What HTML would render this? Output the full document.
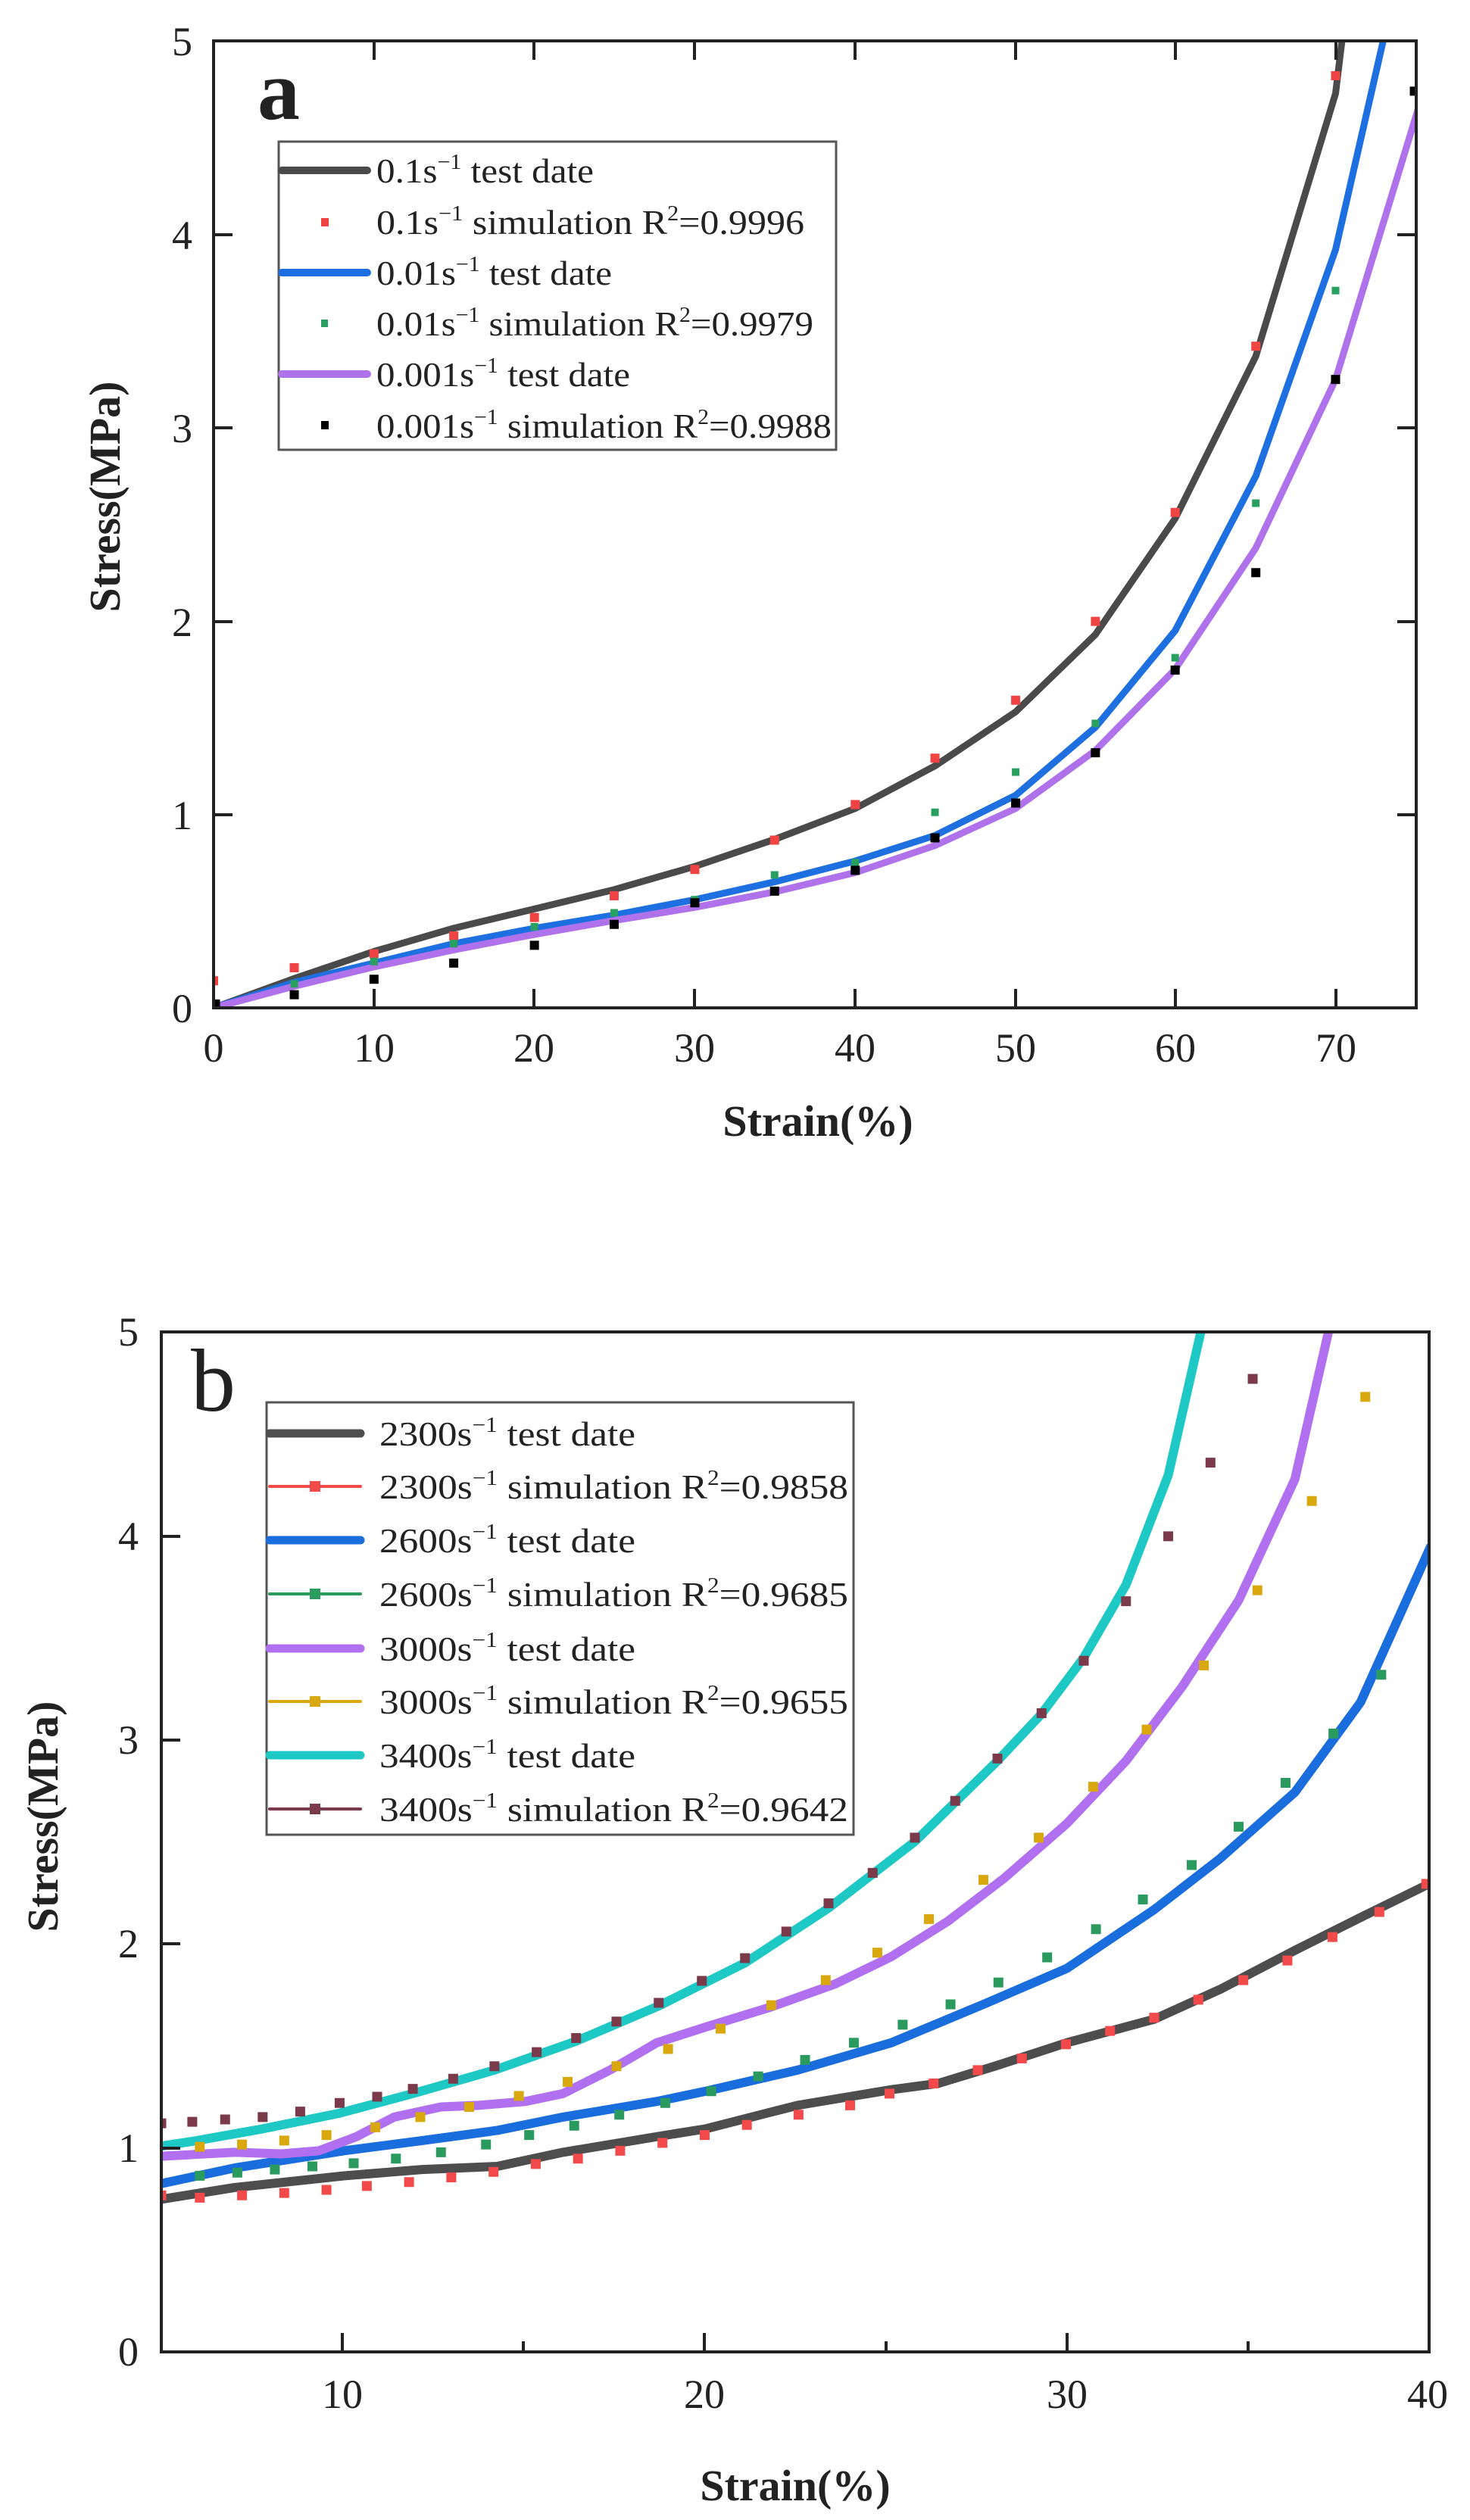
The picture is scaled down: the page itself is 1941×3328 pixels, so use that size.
<!DOCTYPE html>
<html><head><meta charset="utf-8"><style>
html,body{margin:0;padding:0;background:#fff}
svg{display:block}
text{font-family:"Liberation Serif",serif;fill:#222}
.tk{font-size:54px}
.lg{font-size:46px}
.ax{font-size:58px;font-weight:bold}
</style></head><body>
<svg width="1941" height="3328" viewBox="0 0 1941 3328" xmlns="http://www.w3.org/2000/svg">
<defs>
<clipPath id="ca"><rect x="228" y="52" width="1282" height="1251"/></clipPath>
<clipPath id="cb"><rect x="172" y="52" width="1351" height="1303"/></clipPath>
</defs>

<!-- ===== Plot a ===== -->
<g transform="matrix(1.2387,0,0,1.0208,-0.42,0.92)" clip-path="url(#ca)" fill="none" stroke-linejoin="round">
<polyline vector-effect="non-scaling-stroke" stroke="#4a4a4a" stroke-width="9" points="228,1303 314,1265 399,1230 484,1200 570,1175 655,1150 741,1120 826,1085 912,1045 997,990 1083,920 1168,820 1253,670 1339,460 1424,120 1432,40"/>
<polyline vector-effect="non-scaling-stroke" stroke="#1e6fe0" stroke-width="9" points="228,1303 314,1270 399,1245 484,1220 570,1200 655,1183 741,1163 826,1140 912,1113 997,1080 1083,1028 1168,940 1253,815 1339,615 1424,322 1477,40"/>
<polyline vector-effect="non-scaling-stroke" stroke="#b072ea" stroke-width="9" points="228,1303 314,1275 399,1250 484,1228 570,1208 655,1190 741,1173 826,1153 912,1128 997,1093 1083,1045 1168,970 1253,865 1339,708 1424,490 1512,140"/>
<path vector-effect="non-scaling-stroke" stroke="#f04444" stroke-width="12" stroke-linecap="square" d="M228,1268h.01M314,1251h.01M399,1233h.01M484,1210h.01M570,1186h.01M655,1158h.01M741,1124h.01M826,1086h.01M912,1040h.01M997,980h.01M1083,905h.01M1168,803h.01M1253,662h.01M1339,447h.01M1424,97h.01"/>
<path vector-effect="non-scaling-stroke" stroke="#2aa060" stroke-width="10" stroke-linecap="square" d="M314,1272h.01M399,1243h.01M484,1220h.01M570,1198h.01M655,1180h.01M741,1163h.01M826,1131h.01M912,1115h.01M997,1050h.01M1083,998h.01M1168,935h.01M1253,850h.01M1339,650h.01M1424,375h.01"/>
<path vector-effect="non-scaling-stroke" stroke="#000" stroke-width="12" stroke-linecap="square" d="M230,1298h.01M314,1286h.01M399,1266h.01M484,1245h.01M570,1222h.01M655,1195h.01M741,1167h.01M826,1152h.01M912,1125h.01M997,1083h.01M1083,1038h.01M1168,973h.01M1253,866h.01M1339,740h.01M1424,490h.01M1508,117h.01"/>
</g>
<g stroke="#222" stroke-width="4" fill="none">
<rect x="282" y="54" width="1588" height="1277"/>
<path d="M282,1076h25M282,821h25M282,565h25M282,310h25M1870,1076h-25M1870,821h-25M1870,565h-25M1870,310h-25
M494,1331v-25M705,1331v-25M917,1331v-25M1129,1331v-25M1341,1331v-25M1552,1331v-25M1764,1331v-25
M494,54v25M705,54v25M917,54v25M1129,54v25M1341,54v25M1552,54v25M1764,54v25"/>
</g>
<g class="tk" text-anchor="end">
<text x="254" y="1350">0</text><text x="254" y="1095">1</text><text x="254" y="840">2</text><text x="254" y="584">3</text><text x="254" y="329">4</text><text x="254" y="73">5</text>
</g>
<g class="tk" text-anchor="middle">
<text x="282" y="1402">0</text><text x="494" y="1402">10</text><text x="705" y="1402">20</text><text x="917" y="1402">30</text><text x="1129" y="1402">40</text><text x="1341" y="1402">50</text><text x="1552" y="1402">60</text><text x="1764" y="1402">70</text>
</g>
<text x="340" y="157" style="font-size:112px;font-weight:bold">a</text>
<text class="ax" x="1080" y="1500" text-anchor="middle">Strain(%)</text>
<text class="ax" transform="translate(158,656) rotate(-90)" text-anchor="middle">Stress(MPa)</text>
<!-- legend a -->
<rect x="368" y="187" width="736" height="407" fill="#fff" stroke="#555" stroke-width="3"/>
<g stroke-width="10" stroke-linecap="round">
<line x1="372" y1="225" x2="485" y2="225" stroke="#4a4a4a"/>
<line x1="372" y1="360" x2="485" y2="360" stroke="#1e6fe0"/>
<line x1="372" y1="494" x2="485" y2="494" stroke="#b072ea"/>
</g>
<rect x="424" y="288" width="10" height="11" fill="#f04444"/>
<rect x="424" y="422" width="9" height="10" fill="#2aa060"/>
<rect x="424" y="556" width="10" height="11" fill="#000"/>
<g class="lg">
<text x="497" y="241" textLength="287" lengthAdjust="spacingAndGlyphs">0.1s<tspan dy="-18" font-size="28">−1</tspan><tspan dy="18"> test date</tspan></text>
<text x="497" y="309" textLength="565" lengthAdjust="spacingAndGlyphs">0.1s<tspan dy="-18" font-size="28">−1</tspan><tspan dy="18"> simulation  R</tspan><tspan dy="-18" font-size="28">2</tspan><tspan dy="18">=0.9996</tspan></text>
<text x="497" y="376" textLength="311" lengthAdjust="spacingAndGlyphs">0.01s<tspan dy="-18" font-size="28">−1</tspan><tspan dy="18"> test date</tspan></text>
<text x="497" y="443" textLength="577" lengthAdjust="spacingAndGlyphs">0.01s<tspan dy="-18" font-size="28">−1</tspan><tspan dy="18"> simulation R</tspan><tspan dy="-18" font-size="28">2</tspan><tspan dy="18">=0.9979</tspan></text>
<text x="497" y="510" textLength="335" lengthAdjust="spacingAndGlyphs">0.001s<tspan dy="-18" font-size="28">−1</tspan><tspan dy="18"> test date</tspan></text>
<text x="497" y="578" textLength="601" lengthAdjust="spacingAndGlyphs">0.001s<tspan dy="-18" font-size="28">−1</tspan><tspan dy="18"> simulation R</tspan><tspan dy="-18" font-size="28">2</tspan><tspan dy="18">=0.9988</tspan></text>
</g>

<!-- ===== Plot b ===== -->
<g transform="matrix(1.2391,0,0,1.0338,-0.13,1705.24)" clip-path="url(#cb)" fill="none" stroke-linejoin="round">
<polyline vector-effect="non-scaling-stroke" stroke="#4d4d4d" stroke-width="12" points="172,1160 250,1145 367,1130 450,1122 530,1118 600,1100 700,1080 752,1070 850,1040 950,1020 1000,1012 1060,990 1137,960 1230,930 1300,892 1380,842 1450,800 1523,757"/>
<polyline vector-effect="non-scaling-stroke" stroke="#1a6ddc" stroke-width="12" points="172,1140 250,1120 367,1098 450,1085 530,1072 600,1055 700,1035 752,1022 850,995 950,960 1050,910 1137,865 1230,790 1300,725 1380,640 1450,525 1525,325"/>
<polyline vector-effect="non-scaling-stroke" stroke="#b070f0" stroke-width="12" points="172,1105 250,1100 300,1102 340,1098 380,1080 420,1055 470,1042 510,1040 560,1035 600,1025 650,995 700,960 752,940 820,915 890,885 950,850 1010,805 1070,750 1137,680 1200,600 1260,505 1320,395 1380,240 1418,40"/>
<polyline vector-effect="non-scaling-stroke" stroke="#1ec8c4" stroke-width="12" points="172,1092 205,1086 280,1070 362,1050 440,1025 527,995 614,958 702,913 794,858 883,788 975,703 1063,600 1110,540 1155,468 1200,375 1245,235 1282,40"/>
<path vector-effect="non-scaling-stroke" stroke="#f24a4a" stroke-width="13" stroke-linecap="square" d="M172,1155h.01M213,1158h.01M258,1155h.01M303,1152h.01M348,1148h.01M391,1143h.01M436,1138h.01M481,1132h.01M526,1125h.01M571,1115h.01M616,1108h.01M661,1098h.01M706,1088h.01M751,1078h.01M796,1065h.01M851,1052h.01M906,1040h.01M948,1025h.01M995,1012h.01M1042,995h.01M1089,980h.01M1136,962h.01M1183,945h.01M1230,928h.01M1277,905h.01M1325,880h.01M1372,855h.01M1420,825h.01M1470,793h.01M1520,757h.01"/>
<path vector-effect="non-scaling-stroke" stroke="#2a9a5e" stroke-width="13" stroke-linecap="square" d="M213,1130h.01M253,1126h.01M293,1122h.01M333,1118h.01M377,1114h.01M422,1108h.01M470,1100h.01M518,1090h.01M564,1078h.01M612,1066h.01M660,1052h.01M709,1037h.01M758,1022h.01M808,1003h.01M858,982h.01M910,960h.01M962,937h.01M1013,911h.01M1064,883h.01M1116,851h.01M1168,815h.01M1218,777h.01M1270,733h.01M1320,684h.01M1370,628h.01M1421,565h.01M1472,490h.01"/>
<path vector-effect="non-scaling-stroke" stroke="#d9a80e" stroke-width="13" stroke-linecap="square" d="M213,1093h.01M258,1090h.01M303,1085h.01M348,1078h.01M400,1068h.01M448,1055h.01M500,1042h.01M553,1028h.01M605,1010h.01M657,990h.01M712,968h.01M768,942h.01M822,912h.01M880,880h.01M935,845h.01M990,802h.01M1048,752h.01M1107,698h.01M1165,633h.01M1222,560h.01M1283,478h.01M1340,382h.01M1398,268h.01M1455,135h.01"/>
<path vector-effect="non-scaling-stroke" stroke="#7a3a4a" stroke-width="13" stroke-linecap="square" d="M172,1063h.01M205,1061h.01M240,1058h.01M280,1055h.01M320,1048h.01M362,1037h.01M402,1029h.01M440,1019h.01M483,1006h.01M527,990h.01M572,972h.01M614,954h.01M657,933h.01M702,909h.01M748,881h.01M794,852h.01M838,818h.01M883,782h.01M930,743h.01M975,698h.01M1018,651h.01M1063,597h.01M1110,539h.01M1155,472h.01M1200,396h.01M1245,313h.01M1290,219h.01M1335,112h.01"/>
</g>
<g stroke="#222" stroke-width="4" fill="none">
<rect x="213" y="1759" width="1674" height="1347"/>
<path d="M213,2837h25M213,2567h25M213,2298h25M213,2029h25
M452,3106v-25M930,3106v-25M1409,3106v-25M691,3106v-14M1170,3106v-14M1648,3106v-14"/>
</g>
<g class="tk" text-anchor="end">
<text x="183" y="3124">0</text><text x="183" y="2855">1</text><text x="183" y="2585">2</text><text x="183" y="2316">3</text><text x="183" y="2047">4</text><text x="183" y="1777">5</text>
</g>
<g class="tk" text-anchor="middle">
<text x="452" y="3180">10</text><text x="930" y="3180">20</text><text x="1409" y="3180">30</text><text x="1885" y="3180">40</text>
</g>
<text x="252" y="1863" style="font-size:118px">b</text>
<text class="ax" x="1050" y="3302" text-anchor="middle">Strain(%)</text>
<text class="ax" transform="translate(76,2399) rotate(-90)" text-anchor="middle">Stress(MPa)</text>
<!-- legend b -->
<rect x="352" y="1852" width="775" height="571" fill="#fff" stroke="#555" stroke-width="3"/>
<g stroke-linecap="round">
<line x1="356" y1="1893" x2="476" y2="1893" stroke="#4d4d4d" stroke-width="11"/>
<line x1="356" y1="1963" x2="476" y2="1963" stroke="#f24a4a" stroke-width="4"/>
<line x1="356" y1="2034" x2="476" y2="2034" stroke="#1a6ddc" stroke-width="11"/>
<line x1="356" y1="2105" x2="476" y2="2105" stroke="#2a9a5e" stroke-width="4"/>
<line x1="356" y1="2177" x2="476" y2="2177" stroke="#b070f0" stroke-width="11"/>
<line x1="356" y1="2247" x2="476" y2="2247" stroke="#d9a80e" stroke-width="4"/>
<line x1="356" y1="2318" x2="476" y2="2318" stroke="#1ec8c4" stroke-width="11"/>
<line x1="356" y1="2389" x2="476" y2="2389" stroke="#7a3a4a" stroke-width="4"/>
</g>
<rect x="409" y="1956" width="14" height="14" fill="#f24a4a"/>
<rect x="409" y="2098" width="14" height="14" fill="#2a9a5e"/>
<rect x="409" y="2240" width="14" height="14" fill="#d9a80e"/>
<rect x="409" y="2382" width="14" height="14" fill="#7a3a4a"/>
<g class="lg">
<text x="501" y="1909" textLength="338" lengthAdjust="spacingAndGlyphs">2300s<tspan dy="-18" font-size="28">−1</tspan><tspan dy="18"> test date</tspan></text>
<text x="501" y="1979" textLength="619" lengthAdjust="spacingAndGlyphs">2300s<tspan dy="-18" font-size="28">−1</tspan><tspan dy="18"> simulation R</tspan><tspan dy="-18" font-size="28">2</tspan><tspan dy="18">=0.9858</tspan></text>
<text x="501" y="2050" textLength="338" lengthAdjust="spacingAndGlyphs">2600s<tspan dy="-18" font-size="28">−1</tspan><tspan dy="18"> test date</tspan></text>
<text x="501" y="2121" textLength="619" lengthAdjust="spacingAndGlyphs">2600s<tspan dy="-18" font-size="28">−1</tspan><tspan dy="18"> simulation R</tspan><tspan dy="-18" font-size="28">2</tspan><tspan dy="18">=0.9685</tspan></text>
<text x="501" y="2193" textLength="338" lengthAdjust="spacingAndGlyphs">3000s<tspan dy="-18" font-size="28">−1</tspan><tspan dy="18"> test date</tspan></text>
<text x="501" y="2263" textLength="619" lengthAdjust="spacingAndGlyphs">3000s<tspan dy="-18" font-size="28">−1</tspan><tspan dy="18"> simulation R</tspan><tspan dy="-18" font-size="28">2</tspan><tspan dy="18">=0.9655</tspan></text>
<text x="501" y="2334" textLength="338" lengthAdjust="spacingAndGlyphs">3400s<tspan dy="-18" font-size="28">−1</tspan><tspan dy="18"> test date</tspan></text>
<text x="501" y="2405" textLength="619" lengthAdjust="spacingAndGlyphs">3400s<tspan dy="-18" font-size="28">−1</tspan><tspan dy="18"> simulation R</tspan><tspan dy="-18" font-size="28">2</tspan><tspan dy="18">=0.9642</tspan></text>
</g>
</svg>
</body></html>
